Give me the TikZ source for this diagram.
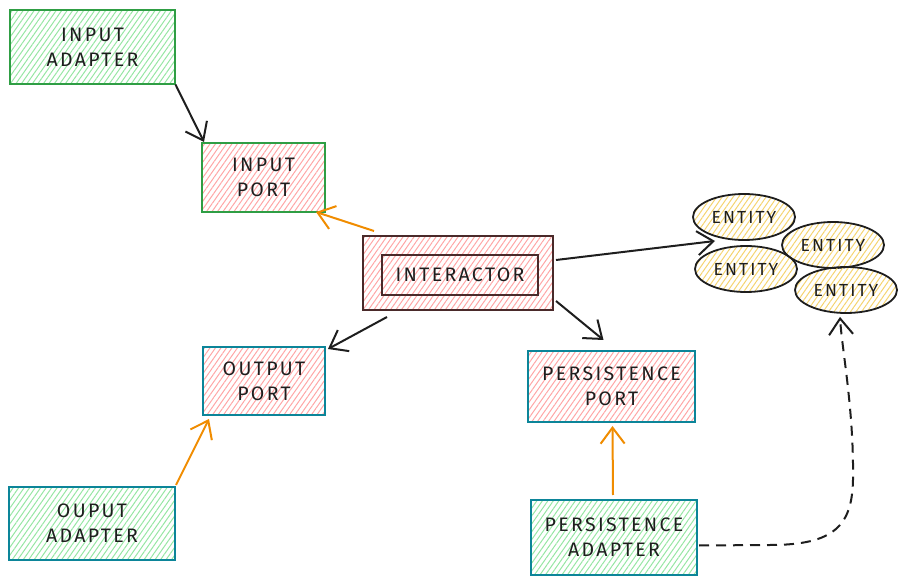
\documentclass[tikz,border=0pt]{standalone}
\usepackage{fontspec}
\setmainfont{Fira Sans}[LetterSpace=12]
\usetikzlibrary{arrows.meta,patterns.meta,shapes.geometric,calc}
\definecolor{ink}{HTML}{1E1E1E}
\definecolor{grnb}{HTML}{2F9E44}
\definecolor{grnh}{HTML}{69DB7C}
\definecolor{pinkh}{HTML}{FF6B6B}
\definecolor{tealb}{HTML}{0C8599}
\definecolor{darkb}{HTML}{4A2A2A}
\definecolor{yelh}{HTML}{F2C94C}
\definecolor{orng}{HTML}{F08C00}
\tikzset{
  box/.style={draw, line width=2pt, minimum width=#1, inner sep=0pt, align=center, text=ink,
     font=\fontsize{19.5}{25}\selectfont},
  greenhatch/.style={pattern={Lines[angle=55,distance=4.5pt,line width=1pt]}, pattern color=grnh!70},
  pinkhatch/.style={pattern={Lines[angle=55,distance=4.5pt,line width=1pt]}, pattern color=pinkh!60},
  yelhatch/.style={pattern={Lines[angle=55,distance=4.5pt,line width=1pt]}, pattern color=yelh!80},
  ent/.style={ellipse, draw=ink, line width=1.8pt, minimum width=102pt, minimum height=46pt, inner sep=0pt,
     text=ink, font=\fontsize{17.5}{18}\selectfont, yelhatch},
  arr/.style={line width=2pt, -{Straight Barb[length=16pt,width=24pt,line width=2pt]}},
}
\begin{document}
\begin{tikzpicture}[x=1pt,y=-1pt]
\useasboundingbox (0,0) rectangle (906,585);
% boxes
\node[box=165pt, minimum height=74pt, draw=grnb, greenhatch] (inadapt) at (92.5,47) {INPUT\\ADAPTER};
\node[box=123pt, minimum height=69pt, draw=grnb, pinkhatch] (inport) at (263.5,177.5) {INPUT\\PORT};
\node[box=190pt, minimum height=74pt, draw=darkb, pinkhatch] (inter) at (458,273) {};
\node[box=156pt, minimum height=40pt, draw=darkb] (interin) at (460,275) {INTERACTOR};
\node[box=122pt, minimum height=68pt, draw=tealb, pinkhatch] (outport) at (264,381) {OUTPUT\\PORT};
\node[box=167pt, minimum height=71pt, draw=tealb, pinkhatch] (persport) at (611.5,386.5) {PERSISTENCE\\PORT};
\node[box=166pt, minimum height=73pt, draw=tealb, greenhatch] (outadapt) at (92,523.5) {OUPUT\\ADAPTER};
\node[box=166pt, minimum height=75pt, draw=tealb, greenhatch] (persadapt) at (614,537.5) {PERSISTENCE\\ADAPTER};
% entities
\node[ent] (e1) at (744,217) {ENTITY};
\node[ent] (e2) at (833,245) {ENTITY};
\node[ent] (e3) at (746,269) {ENTITY};
\node[ent] (e4) at (846,290) {ENTITY};
\coordinate (etip) at (715,241);
% arrows
\draw[arr, draw=ink] (inadapt.south east) -- ($(inport.north west)+(3,0)$);
\draw[arr, draw=orng] ($(inter.north west)+(12,-4)$) -- ($(inport.south east)+(-10,-1)$);
\draw[arr, draw=ink] ($(inter.south west)+(25,6)$) -- ($(outport.north east)+(2,3)$);
\draw[arr, draw=orng] ($(outadapt.north east)+(0,-1)$) -- ($(outport.south west)+(7,3)$);
\draw[arr, draw=ink] ($(inter.east)+(2,-13)$) -- (etip);
\draw[arr, draw=ink] ($(inter.south east)+(2,-10)$) -- ($(persport.north)+(-8,-10)$);
\draw[arr, draw=orng] ($(persadapt.north)+(-1,-4)$) -- ($(persport.south)+(1,3)$);
\draw[arr, draw=ink, dash pattern=on 10pt off 7pt] ($(persadapt.east)+(1,8)$) -- (770,545)
   .. controls (835,545) and (852,525) .. (853,480)
   .. controls (854,410) and (842,350) .. ($(e4.south)+(-6,3)$);
\end{tikzpicture}
\end{document}
